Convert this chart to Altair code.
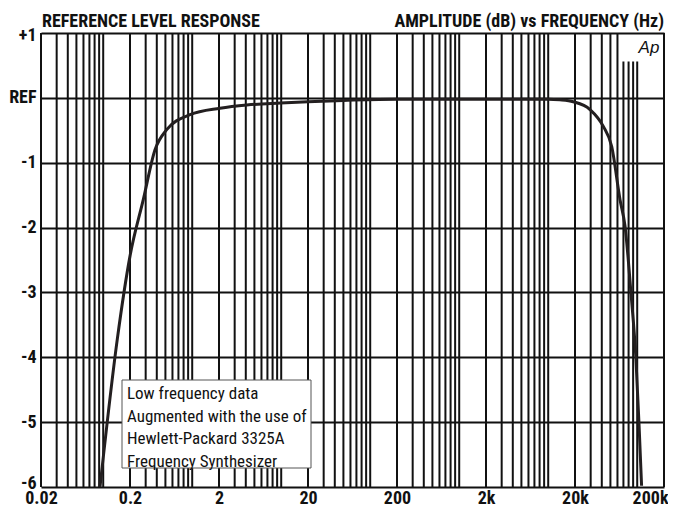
import altair as alt
import pandas as pd

# ---- data ----
freq_hz = [0.092, 0.144, 0.2, 0.282, 0.382, 0.517, 0.944, 2.05, 4.1, 9.8, 20, 50,
           200, 1000, 5000, 10000, 13500, 19100, 29500, 41600, 51700, 64100,
           73000, 85000, 96800, 105000, 112000]
level_db = [-6.0, -3.72, -2.44, -1.57, -0.8, -0.49, -0.26, -0.16, -0.11, -0.08, -0.06, -0.04,
            -0.02, -0.02, -0.02, -0.02, -0.03, -0.06, -0.18, -0.44, -0.75, -1.57,
            -1.98, -3.0, -4.03, -5.06, -5.98]

x_ticks = [0.02, 0.2, 2, 20, 200, 2000, 20000, 200000]
x_labels = ["0.02", "0.2", "2", "20", "200", "2k", "20k", "200k"]
y_ticks = [-6, -5, -4, -3, -2, -1, 0, 1]
y_labels = ["-6", "-5", "-4", "-3", "-2", "-1", "REF", "+1"]

decades = [0.01, 0.1, 1, 10, 100, 1000, 10000, 100000]
multiples = [1, 2, 3, 4, 5, 6, 7, 8, 9]
short_lines = [70000, 80000, 90000, 100000]   # stop below the logo

note_lines = ["Low frequency data", "Augmented with the use of",
              "Hewlett-Packard 3325A", "Frequency Synthesizer"]

# ---- build tables ----
grid_f = sorted({round(m * d, 6) for d in decades for m in multiples
                 if 0.02 <= round(m * d, 6) <= 200000})
grid = pd.DataFrame({
    "f": grid_f,
    "y1": [-6] * len(grid_f),
    "y2": [0.56 if f in short_lines else 1 for f in grid_f],
})
curve = pd.DataFrame({"f": freq_hz, "db": level_db})
one = pd.DataFrame({"k": [0]})

FONT = "Roboto Condensed, DejaVu Sans Condensed, sans-serif"
INK = "#111111"

xscale = alt.Scale(type="log", domain=[0.02, 200000], nice=False)
yscale = alt.Scale(domain=[-6, 1], nice=False, zero=False)

x_expr = "[" + ",".join(f"'{s}'" for s in x_labels) + "][round(log(datum.value/0.02)/LN10)]"
y_expr = "[" + ",".join(f"'{s}'" for s in y_labels) + "][round(datum.value+6)]"

xaxis = alt.Axis(values=x_ticks, labelExpr=x_expr, grid=False, ticks=False, domain=False,
                 labelFont=FONT, labelFontSize=18, labelFontWeight="bold", labelColor=INK,
                 labelPadding=2, title=None, labelFlush=False, labelBaseline="top",
                 labelAlign={"condition": {"test": "datum.value >= 200000", "value": "right"},
                             "value": "center"},
                 labelOffset={"condition": {"test": "datum.value >= 200000", "value": 4},
                              "value": 0})
yaxis = alt.Axis(values=y_ticks, labelExpr=y_expr, grid=True, gridColor=INK, gridWidth=2,
                 gridOpacity=1, ticks=False, domain=False, tickSize=0,
                 labelFont=FONT, labelFontSize=18, labelFontWeight="bold", labelColor=INK,
                 labelPadding=5, title=None,
                 labelOffset={"condition": [{"test": "datum.value <= -6", "value": -4},
                                            {"test": "datum.value >= 1", "value": 2}],
                              "value": 0})

vgrid = alt.Chart(grid).mark_rule(color=INK, strokeWidth=2).encode(
    x=alt.X("f:Q", scale=xscale, axis=xaxis),
    y=alt.Y("y1:Q", scale=yscale, axis=yaxis),
    y2="y2:Q",
)

line = alt.Chart(curve).mark_line(color="#231f20", strokeWidth=3, interpolate="monotone").encode(
    x=alt.X("f:Q", scale=xscale),
    y=alt.Y("db:Q", scale=yscale),
)

box = alt.Chart(one).mark_rect(fill="white", stroke="#555555", strokeWidth=1).encode(
    x=alt.value(81), x2=alt.value(270), y=alt.value(347), y2=alt.value(435)
)
note = alt.Chart(one).mark_text(align="left", baseline="alphabetic", font=FONT, fontSize=17,
                                 lineHeight=22.7, color=INK).encode(
    x=alt.value(86), y=alt.value(366), text=alt.value(note_lines)
)

title_l = alt.Chart(one).mark_text(align="left", baseline="alphabetic", font=FONT, fontSize=18,
                                    fontWeight="bold", color=INK).encode(
    x=alt.value(1), y=alt.value(-6), text=alt.value("REFERENCE LEVEL RESPONSE")
)
title_r = alt.Chart(one).mark_text(align="right", baseline="alphabetic", font=FONT, fontSize=18,
                                    fontWeight="bold", color=INK).encode(
    x=alt.value(623), y=alt.value(-6), text=alt.value("AMPLITUDE (dB) vs FREQUENCY (Hz)")
)
logo = alt.Chart(one).mark_text(align="center", baseline="alphabetic", font="Liberation Sans, sans-serif",
                                 fontSize=17, fontStyle="italic", color=INK).encode(
    x=alt.value(608), y=alt.value(20), text=alt.value("Ap")
)

chart = alt.layer(vgrid, line, box, note, title_l, title_r, logo).properties(
    width=623, height=454,
    autosize=alt.AutoSizeParams(type="none"),
    padding={"left": 33, "top": 25, "right": 4, "bottom": 19},
).configure_view(stroke=INK, strokeWidth=2).configure(background="white")

chart.save("out.html", embed_options={"renderer": "svg", "actions": False})
